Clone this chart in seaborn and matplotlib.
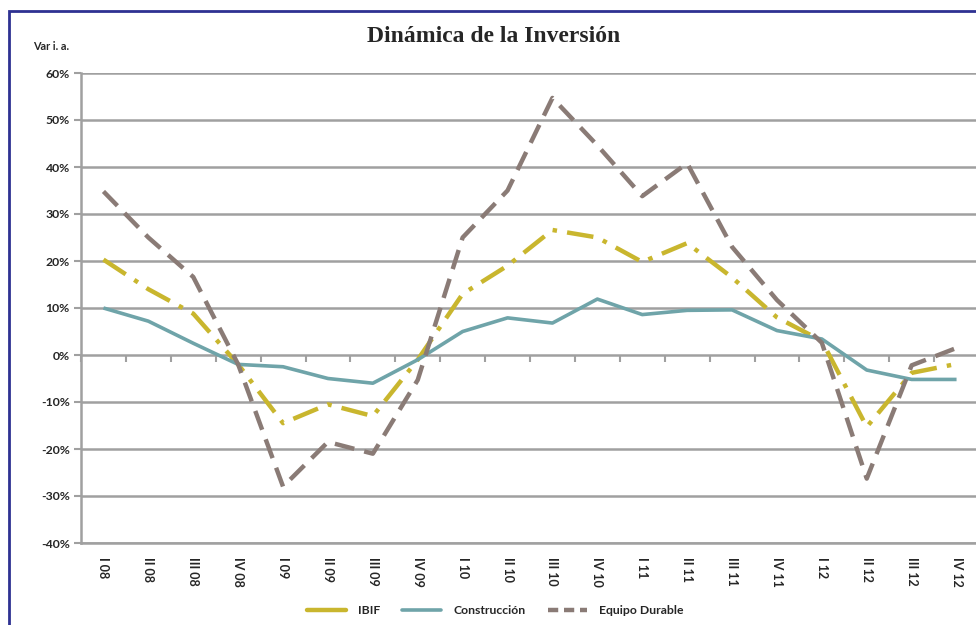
import matplotlib
matplotlib.use("Agg")
import matplotlib.pyplot as plt
from matplotlib.patches import Rectangle
from matplotlib.lines import Line2D
import seaborn as sns
import pandas as pd

quarters = ["I 08", "II 08", "III 08", "IV 08", "I 09", "II 09", "III 09", "IV 09",
            "I 10", "II 10", "III 10", "IV 10", "I 11", "II 11", "III 11", "IV 11",
            "I 12", "II 12", "III 12", "IV 12"]
ibif = [20.3, 14.0, 8.8, -2.0, -14.5, -10.5, -13.0, -1.0,
        13.0, 19.0, 26.6, 25.0, 19.8, 23.8, 16.5, 8.0,
        3.0, -15.3, -3.8, -1.9]
construccion = [10.0, 7.2, 2.5, -2.0, -2.5, -5.0, -6.0, -1.0,
                5.0, 7.9, 6.8, 11.9, 8.6, 9.5, 9.6, 5.2,
                3.4, -3.2, -5.2, -5.2]
equipo = [34.8, 25.0, 16.6, -2.0, -28.0, -18.5, -21.0, -5.3,
          25.0, 35.0, 54.7, 44.6, 33.8, 40.8, 23.0, 11.7,
          2.6, -26.3, -2.2, 1.5]
series_names = ["IBIF", "Construcción", "Equipo Durable"]
yticks = [-40, -30, -20, -10, 0, 10, 20, 30, 40, 50, 60]

colors = {"IBIF": "#C9B62E", "Construcción": "#6FA4A9", "Equipo Durable": "#8A7B76"}
dashes = {"IBIF": (6, 2.3, 1, 2.3), "Construcción": "", "Equipo Durable": (4.5, 2.3)}
widths = {"IBIF": 3.2, "Construcción": 2.6, "Equipo Durable": 3.2}

rows = []
for name, vals in zip(series_names, [ibif, construccion, equipo]):
    for i, v in enumerate(vals):
        rows.append({"x": i, "value": v, "serie": name})
df = pd.DataFrame(rows)

sns.set_style("white")
plt.rcParams["font.family"] = ["Lato", "DejaVu Sans"]

fig = plt.figure(figsize=(9.76, 6.25), dpi=100)
ax = fig.add_axes([81 / 976, 1 - 543 / 625, 898 / 976, 470 / 625])

grid_c = "#A0A0A0"
for name in series_names:
    sub = df[df["serie"] == name]
    sns.lineplot(data=sub, x="x", y="value", ax=ax, color=colors[name],
                 linewidth=widths[name], legend=False, zorder=3)
    ln = ax.lines[-1]
    if dashes[name]:
        ln.set_dashes(dashes[name])
    ln.set_solid_capstyle("butt")

ax.set_xlim(-0.5, len(quarters) - 0.5)
ax.set_ylim(-40, 60)
ax.set_yticks(yticks)
ax.set_yticklabels([f"{t}%" for t in yticks], fontsize=8.8, fontweight="bold")
ax.yaxis.grid(True, color=grid_c, linewidth=1.8)
ax.xaxis.grid(False)
ax.set_xticks(range(len(quarters)))
ax.set_xticklabels(quarters, rotation=-90, fontsize=9, fontweight="bold", va="top")
ax.tick_params(axis="x", length=0, pad=10)
ax.tick_params(axis="y", length=5, width=1.5, color=grid_c, left=True, pad=3)
ax.set_xlabel("")
ax.set_ylabel("")
for s in ["top", "right"]:
    ax.spines[s].set_visible(False)
for s in ["left", "bottom"]:
    ax.spines[s].set_color(grid_c)
    ax.spines[s].set_linewidth(1.8)

# category tick marks on the 0% line
sec = ax.secondary_xaxis(0.4)
sec.set_xticks([i - 0.5 for i in range(len(quarters) + 1)])
sec.set_xticklabels([])
sec.tick_params(length=5, width=1.5, color=grid_c)
sec.spines["bottom"].set_visible(False)

fig.text(494 / 976, 1 - 36 / 625, "Dinámica de la Inversión", ha="center", va="center",
         fontsize=17, fontweight="bold", family=["Liberation Serif", "DejaVu Serif"])
fig.text(33 / 976, 1 - 46 / 625, "Var i. a.", ha="left", va="center",
         fontsize=7.8, fontweight="bold")

handles = []
for name in series_names:
    h = Line2D([0], [0], color=colors[name], linewidth=widths[name])
    if name == "Equipo Durable":
        h.set_dashes((2.3, 1.3))
    handles.append(h)
fig.legend(handles, series_names, loc="center", bbox_to_anchor=(495 / 976, 1 - 611 / 625),
           ncol=3, frameon=False, prop={"size": 8.8, "weight": "bold"},
           handlelength=3.2, columnspacing=1.8, handletextpad=1.0)

fig.patches.append(Rectangle((9 / 976, -0.02), 1.1, 1 - 11 / 625 + 0.02,
                             transform=fig.transFigure, fill=False,
                             edgecolor="#2E3192", linewidth=2))

fig.savefig("out.png", dpi=100)
